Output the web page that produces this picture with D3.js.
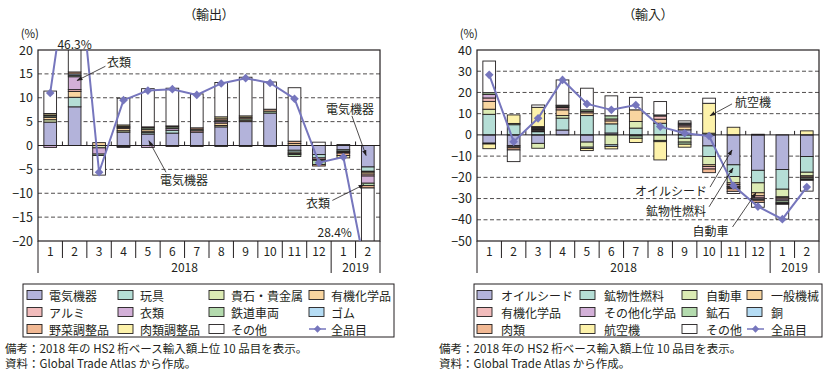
<!DOCTYPE html>
<html>
<head>
<meta charset="utf-8">
<script src="https://cdn.jsdelivr.net/npm/d3@7"></script>
<style>
  body { margin: 0; background: #fff; }
  svg text { font-family: "Noto Sans CJK JP", "Noto Sans", sans-serif; fill: #231f20; }
</style>
</head>
<body>
<div id="chart"></div>
<script>
/**
 * DATA
 * */
const months = ["1", "2", "3", "4", "5", "6", "7", "8", "9", "10", "11", "12", "1", "2"];
const yearLabels = ["2018", "2019"];
const yearLengths = [12, 2];

// exports (輸出), contribution by item, % points
const exportNames = ["電気機器", "玩具", "貴石・貴金属", "有機化学品", "アルミ", "衣類", "鉄道車両", "ゴム", "野菜調整品", "肉類調整品", "その他"];
const exDenki   = [4.9, 8.1, 0, 2.8, 2.4, 2.6, 2.8, 3.9, 5.0, 6.8, -1.0, -1.9, -0.9, -4.5];
const exGangu   = [0, 2.0, 0, 0, 0.3, 0.6, 0, -0.2, -0.2, 0, -0.4, -0.7, -0.3, -0.9];
const exKiseki  = [0.5, 0, -0.5, 0.3, 0.3, 0, 0, 0.3, 0, 0, -0.3, 0, -0.2, -0.2];
const exYuki    = [0.5, 1.2, 0.6, 0.5, 0.4, 0, 0, 0.5, 0.3, 0, 0.4, 0, 0, -0.4];
const exAlumi   = [0, 0.4, 0, 0.2, 0, -0.2, 0.3, 0, 0, 0, 0, -0.3, 0, -0.4];
const exIrui    = [-0.4, 2.7, -1.3, -0.2, -0.4, 0.4, -0.2, 0.3, 0, -0.2, -0.2, -0.2, -0.2, -1.5];
const exTetsudo = [0.3, 0.3, -0.3, 0.2, 0.3, 0.3, 0.3, 0.3, 0.3, 0.4, -0.4, -0.9, 0.2, -0.5];
const exGomu    = [0, 0.3, 0, -0.2, 0, 0, 0, 0, 0, 0, 0, 0, 0, 0];
const exYasai   = [0.2, 0.4, 0, 0, 0.2, 0.2, 0.3, 0.3, 0.3, 0.4, 0.5, -0.3, -0.5, -0.5];
const exNiku    = [0.3, 0, 0, 0.3, 0, 0, 0, 0.4, 0.3, 0, 0, 0, -0.5, 0];
const exSonota  = [4.7, 30.9, -4.1, 5.6, 8.0, 7.9, 7.1, 7.2, 8.1, 5.7, 11.2, 0.7, 0, -19.5];
const exTotal   = [11.0, 46.3, -5.6, 9.5, 11.5, 11.8, 10.6, 13.0, 14.1, 13.1, 9.8, -3.6, -2.4, -28.4];

// imports (輸入)
const importNames = ["オイルシード", "鉱物性燃料", "自動車", "一般機械", "有機化学品", "その他化学品", "鉱石", "銅", "肉類", "航空機", "その他"];
const imOilseed = [-3.9, -5.0, -4.0, 2.3, -3.4, 0.9, -0.5, 0, 2.4, -5.2, -14.1, -16.7, -16.3, -10.2];
const imKobutsu = [9.7, 4.8, 1.5, 5.6, 9.1, 4.3, 3.2, 5.5, -1.6, -5.0, -5.5, -5.9, -9.3, -7.4];
const imJidosha = [2.4, 0, -2.3, 1.2, -2.4, -4.7, 3.1, -2.6, -1.8, -3.9, -3.0, -4.7, -3.6, -1.7];
const imIppan   = [3.7, 0, 0.4, 2.7, 1.3, 1.4, 5.5, 1.9, 1.4, -0.8, -0.8, -1.4, -0.5, -0.6];
const imYuki    = [1.6, -0.6, 0.5, 1.0, 0.6, 0.9, 0, 1.5, 0.8, -1.2, -0.8, -1.0, -0.6, -0.5];
const imKagaku  = [1.7, 0, 0.4, 0.4, 0, 0, 0, 0, 0.5, 0, -0.3, -0.6, -0.8, 0];
const imKoseki  = [0.8, 0.6, 0.4, 0.5, 0.8, 1.5, -1.1, -0.6, -1.0, 0.8, -0.5, 0.3, -0.8, -0.6];
const imDo      = [-0.4, -0.5, 0.3, 0.3, -0.6, -0.8, 0, 0.5, 0.5, 0, -0.4, -0.5, -0.4, -0.4];
const imNiku    = [0, -1.0, 0.4, 0, 0, 0, 0, 0, 0, -1.7, -1.2, -1.0, -0.4, 0];
const imKoku    = [-2.2, 4.0, 9.1, 0, -1.0, -1.1, -2.0, -8.6, -1.4, 14.1, 3.6, 0, 0, 1.9];
const imSonota  = [14.9, -5.5, 1.1, 11.9, 10.2, 9.4, 5.9, 6.3, 1.0, 2.4, -1.0, -2.3, -7.0, -5.1];
const imTotal   = [28.3, -3.2, 7.8, 25.9, 14.6, 11.8, 14.1, 3.9, 0.8, -0.5, -24.0, -33.8, -39.7, -24.6];

const totalName = "全品目";
const notes = ["備考：2018 年の HS2 桁ベース輸入額上位 10 品目を表示。", "資料：Global Trade Atlas から作成。"];

/**
 * STYLE
 * */
const palette = ["#b3b3da", "#b5ded6", "#dcebb4", "#f8d5a0", "#f2bcbc", "#d3b0d8",
                 "#b4dbae", "#b5dcf4", "#f2b994", "#fdf2aa", "#ffffff"];
const lineColor = "#7676bd";
const ink = "#231f20";

const svg = d3.select("#chart").append("svg").attr("width", 828).attr("height", 376);

svg.append("defs").append("marker")
  .attr("id", "arrow")
  .attr("viewBox", "0 0 10 10")
  .attr("refX", 9).attr("refY", 5)
  .attr("markerUnits", "userSpaceOnUse")
  .attr("markerWidth", 6).attr("markerHeight", 6)
  .attr("orient", "auto")
  .append("path").attr("d", "M0,1.5L10,5L0,8.5Z").attr("fill", ink);

const diamond = "M0,-4.3L4.3,0L0,4.3L-4.3,0Z";

/**
 * PANELS
 * annotations use band index (continuous) and data value
 * */
const panels = [
  {
    title: "（輸出）",
    left: 38, right: 380, top: 50, bottom: 241,
    domain: [-20, 20], ticks: d3.range(-20, 21, 5),
    names: exportNames,
    values: [exDenki, exGangu, exKiseki, exYuki, exAlumi, exIrui, exTetsudo, exGomu, exYasai, exNiku, exSonota],
    totals: exTotal,
    outLabels: [
      { text: "46.3%", i: 1.5, v: 20, dy: -7, anchor: "middle" },
      { text: "28.4%", i: 12.85, v: -18, dy: 0, anchor: "end" }
    ],
    notes: [
      { text: "衣類", ti: 2.82, tv: 17.6, anchor: "start", a: [2.76, 16.6, 1.6, 13.6] },
      { text: "電気機器", ti: 5.98, tv: -7.1, anchor: "middle", a: [5.24, -5.6, 4.54, 1.0] },
      { text: "電気機器", ti: 12.77, tv: 7.8, anchor: "middle", a: [12.85, 6.2, 13.43, -2.1] },
      { text: "衣類", ti: 11.46, tv: -11.9, anchor: "middle", a: [12.05, -11.5, 13.34, -8.2] }
    ],
    legend: { x: 23, w: 371, cols: [4, 95, 186, 286], gap: 22 },
    notesX: 5
  },
  {
    title: "（輸入）",
    left: 477, right: 819, top: 50, bottom: 241,
    domain: [-50, 40], ticks: d3.range(-50, 41, 10),
    names: importNames,
    values: [imOilseed, imKobutsu, imJidosha, imIppan, imYuki, imKagaku, imKoseki, imDo, imNiku, imKoku, imSonota],
    totals: imTotal,
    outLabels: [],
    notes: [
      { text: "航空機", ti: 10.56, tv: 15.5, anchor: "start", a: [10.44, 14.6, 9.54, 9.0] },
      { text: "オイルシード", ti: 9.42, tv: -26.4, anchor: "end", a: [9.54, -24.6, 10.44, -7.1] },
      { text: "鉱物性燃料", ti: 9.38, tv: -35.8, anchor: "end", a: [9.5, -33.9, 10.48, -15.6] },
      { text: "自動車", ti: 10.3, tv: -45.2, anchor: "end", a: [10.46, -43.4, 11.42, -27.3] }
    ],
    legend: { x: 474, w: 348, cols: [3, 106, 208, 273], gap: 24 },
    notesX: 439
  }
];

panels.forEach((p, idx) => drawPanel(p, idx));

function drawPanel(p, idx) {
  const g = svg.append("g");
  const x = d3.scaleBand().domain(d3.range(months.length)).range([p.left, p.right]);
  const bw = x.bandwidth();
  const xPos = i => p.left + i * bw;
  const y = d3.scaleLinear().domain(p.domain).range([p.bottom, p.top]);

  // title and unit
  g.append("text")
    .attr("x", (p.left + p.right) / 2).attr("y", 13)
    .attr("text-anchor", "middle").attr("dominant-baseline", "central")
    .style("font-size", "13px").style("font-feature-settings", '"palt"')
    .text(p.title);
  g.append("text")
    .attr("x", p.left + 1).attr("y", 33)
    .attr("text-anchor", "end").attr("dominant-baseline", "central")
    .style("font-size", "11.5px")
    .text("(%)");

  // dashed grid
  g.selectAll("line.grid")
    .data(p.ticks.filter(t => t !== 0 && t > p.domain[0] && t < p.domain[1]))
    .join("line")
    .attr("class", "grid")
    .attr("x1", p.left).attr("x2", p.right)
    .attr("y1", d => y(d)).attr("y2", d => y(d))
    .attr("stroke", ink).attr("stroke-width", 0.8)
    .attr("stroke-dasharray", "4,2.5");

  const clipId = "clip" + idx;
  g.append("clipPath").attr("id", clipId)
    .append("rect")
    .attr("x", p.left).attr("y", p.top)
    .attr("width", p.right - p.left).attr("height", p.bottom - p.top);

  // stacked bars
  const rows = months.map((m, i) => Object.fromEntries(p.names.map((n, k) => [n, p.values[k][i]])));
  const stacked = d3.stack().keys(p.names).offset(d3.stackOffsetDiverging)(rows);
  const barW = bw * 0.52;

  g.append("g").attr("clip-path", `url(#${clipId})`)
    .selectAll("g")
    .data(stacked)
    .join("g")
    .attr("fill", (d, k) => palette[k])
    .selectAll("rect")
    .data(d => d.map((v, i) => ({ i, y0: v[0], y1: v[1] })).filter(s => s.y0 !== s.y1))
    .join("rect")
    .attr("x", d => x(d.i) + (bw - barW) / 2)
    .attr("width", barW)
    .attr("y", d => y(Math.max(d.y0, d.y1)))
    .attr("height", d => Math.abs(y(d.y0) - y(d.y1)))
    .attr("stroke", ink).attr("stroke-width", 0.9);

  // zero line + small ticks
  g.append("line")
    .attr("x1", p.left).attr("x2", p.right)
    .attr("y1", y(0)).attr("y2", y(0))
    .attr("stroke", ink).attr("stroke-width", 1);
  g.selectAll("line.ztick")
    .data(d3.range(1, months.length))
    .join("line")
    .attr("class", "ztick")
    .attr("x1", i => xPos(i)).attr("x2", i => xPos(i))
    .attr("y1", y(0)).attr("y2", y(0) - 4)
    .attr("stroke", ink).attr("stroke-width", 1);

  // frame
  g.append("rect")
    .attr("x", p.left).attr("y", p.top)
    .attr("width", p.right - p.left).attr("height", p.bottom - p.top)
    .attr("fill", "none").attr("stroke", ink).attr("stroke-width", 1.2);

  // y axis labels
  const yAxis = g.append("g")
    .attr("transform", `translate(${p.left},0)`)
    .call(d3.axisLeft(y).tickValues(p.ticks).tickSize(0).tickPadding(5));
  yAxis.select(".domain").remove();
  yAxis.selectAll("text").style("font-size", "12.5px").attr("fill", ink)
    .style("font-family", '"Noto Sans CJK JP", "Noto Sans", sans-serif');

  // x axis month labels
  const xAxis = g.append("g")
    .attr("transform", `translate(0,${p.bottom})`)
    .call(d3.axisBottom(x).tickFormat(i => months[i]).tickSize(0).tickPadding(6));
  xAxis.select(".domain").remove();
  xAxis.selectAll("text").style("font-size", "12px").attr("fill", ink)
    .style("font-family", '"Noto Sans CJK JP", "Noto Sans", sans-serif');

  // separators
  const yearBreaks = [0];
  yearLengths.forEach(n => yearBreaks.push(yearBreaks[yearBreaks.length - 1] + n));
  g.selectAll("line.sep")
    .data(d3.range(0, months.length + 1))
    .join("line")
    .attr("class", "sep")
    .attr("x1", i => xPos(i)).attr("x2", i => xPos(i))
    .attr("y1", p.bottom)
    .attr("y2", i => yearBreaks.includes(i) ? p.bottom + 32 : p.bottom + 17)
    .attr("stroke", ink).attr("stroke-width", 1);

  g.selectAll("text.year")
    .data(yearLabels)
    .join("text")
    .attr("class", "year")
    .attr("x", (d, k) => (xPos(yearBreaks[k]) + xPos(yearBreaks[k + 1])) / 2)
    .attr("y", p.bottom + 31)
    .attr("text-anchor", "middle")
    .style("font-size", "12px")
    .text(d => d);

  // total line
  const lineG = g.append("g").attr("clip-path", `url(#${clipId})`);
  const line = d3.line().x((d, i) => x(i) + bw / 2).y(d => y(d));
  lineG.append("path")
    .datum(p.totals)
    .attr("d", line)
    .attr("fill", "none")
    .attr("stroke", lineColor).attr("stroke-width", 2);
  lineG.selectAll("path.mark")
    .data(p.totals)
    .join("path")
    .attr("class", "mark")
    .attr("d", diamond)
    .attr("transform", (d, i) => `translate(${x(i) + bw / 2},${y(d)})`)
    .attr("fill", lineColor);

  // labels for off-scale totals
  g.selectAll("text.out")
    .data(p.outLabels)
    .join("text")
    .attr("class", "out")
    .attr("x", d => xPos(d.i))
    .attr("y", d => y(d.v) + d.dy)
    .attr("text-anchor", d => d.anchor)
    .attr("dominant-baseline", "central")
    .style("font-size", "12px")
    .text(d => d.text);

  // annotations
  g.selectAll("line.ann")
    .data(p.notes)
    .join("line")
    .attr("class", "ann")
    .attr("x1", d => xPos(d.a[0])).attr("y1", d => y(d.a[1]))
    .attr("x2", d => xPos(d.a[2])).attr("y2", d => y(d.a[3]))
    .attr("stroke", ink).attr("stroke-width", 0.8)
    .attr("marker-end", "url(#arrow)");
  g.selectAll("text.ann")
    .data(p.notes)
    .join("text")
    .attr("class", "ann")
    .attr("x", d => xPos(d.ti)).attr("y", d => y(d.tv))
    .attr("text-anchor", d => d.anchor)
    .attr("dominant-baseline", "central")
    .style("font-size", "12px")
    .text(d => d.text);

  // legend
  const L = p.legend;
  const rowY = [295, 312, 329];
  g.append("rect")
    .attr("x", L.x).attr("y", 284).attr("width", L.w).attr("height", 53)
    .attr("fill", "none").attr("stroke", ink).attr("stroke-width", 1);
  const items = p.names.map((n, k) => ({ name: n, k })).concat([{ name: totalName, k: -1 }]);
  const li = g.selectAll("g.li")
    .data(items)
    .join("g")
    .attr("class", "li")
    .attr("transform", (d, j) => `translate(${L.x + L.cols[j % 4]},${rowY[Math.floor(j / 4)]})`);
  li.filter(d => d.k >= 0).append("rect")
    .attr("x", 0).attr("y", -4.5).attr("width", 15).attr("height", 9)
    .attr("fill", d => palette[d.k]).attr("stroke", ink).attr("stroke-width", 0.9);
  const tl = li.filter(d => d.k < 0);
  tl.append("line").attr("x1", 0).attr("x2", 17).attr("y1", 0).attr("y2", 0)
    .attr("stroke", lineColor).attr("stroke-width", 1.5);
  tl.append("path").attr("d", diamond).attr("transform", "translate(8.5,0) scale(0.85)").attr("fill", lineColor);
  li.append("text")
    .attr("x", L.gap).attr("y", 0)
    .attr("dominant-baseline", "central")
    .style("font-size", "12px")
    .text(d => d.name);

  // notes
  g.selectAll("text.note")
    .data(notes)
    .join("text")
    .attr("class", "note")
    .attr("x", p.notesX)
    .attr("y", (d, j) => 348 + j * 15)
    .attr("dominant-baseline", "central")
    .style("font-size", "11.5px")
    .text(d => d);
}
</script>
</body>
</html>
